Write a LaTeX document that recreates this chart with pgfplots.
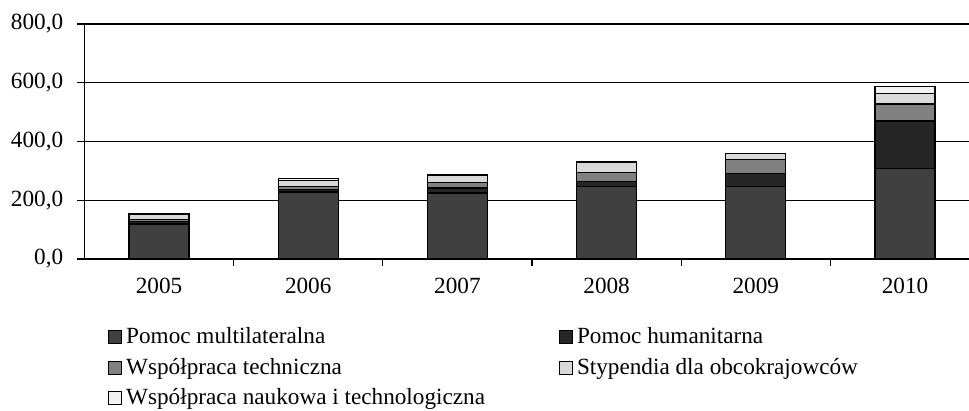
\documentclass[border=0pt]{standalone}
\usepackage{pgfplots}
\pgfplotsset{compat=1.18}
\usepackage{fontspec}
\setmainfont{Liberation Serif}
\definecolor{cmulti}{HTML}{404040}
\definecolor{chum}{HTML}{262626}
\definecolor{ctech}{HTML}{808080}
\definecolor{cstyp}{HTML}{D9D9D9}
\definecolor{cnauk}{HTML}{F2F2F2}
\pgfplotstableread{
x multi hum tech styp nauk
0 119 10 6 16 4
1 228 8 11 20 6
2 225 17 18 24 5
3 246 19 30 35 3
4 246 46 46 21 1
5 309 161 58 35 25
}\datatable
\begin{document}
\fontsize{23.2}{28}\selectfont
\begin{tikzpicture}
\pgfplotsset{leg/.style={legend image code/.code={\draw[##1,line width=1pt] (0pt,-5.5pt) rectangle (13pt,7.5pt);}}}
\begin{axis}[
 at={(84.4pt,-259pt)}, anchor=south west,
 scale only axis, width=884.6pt, height=235pt,
 xmin=-0.5, xmax=5.429, ymin=0, ymax=800,
 ybar stacked, bar width=60pt,
 axis lines*=left,
 axis line style={line width=1.2pt, black},
 tick align=outside,
 major tick length=7pt,
 tick style={line width=1.2pt, black},
 ytick={0,200,...,800},
 ymajorgrids, grid style={line width=1.2pt, black},
 /pgf/number format/assume math mode=true,
 yticklabel style={/pgf/number format/fixed, /pgf/number format/fixed zerofill, /pgf/number format/precision=1, /pgf/number format/use comma, /pgf/number format/1000 sep={}, inner sep=0pt, anchor=east, xshift=-14pt},
 xtick={0,...,5},
 xticklabels={2005,2006,2007,2008,2009,2010},
 major x tick style={draw=none},
 minor xtick={0.5,1.5,2.5,3.5,4.5},
 minor tick length=7pt,
 minor x tick style={line width=1.2pt, black},
 xticklabel style={inner sep=0pt, text height=15pt, text depth=0pt, anchor=north, yshift=-12pt},
 legend columns=2,
 legend cell align=left,
 legend style={draw=none, fill=none, at={(0.02668,-0.2906)}, anchor=north west, inner sep=0pt, row sep=9.5pt,
   nodes={inner sep=0pt, text height=16pt, text depth=5pt},
   /tikz/every odd column/.append style={column sep=4pt},
   /tikz/every even column/.append style={column sep=74pt}},
 every axis plot/.append style={draw=black, line width=1.2pt},
]
\addplot[fill=cmulti, leg] table[x=x, y=multi] {\datatable};
\addplot[fill=chum, leg] table[x=x, y=hum] {\datatable};
\addplot[fill=ctech, leg] table[x=x, y=tech] {\datatable};
\addplot[fill=cstyp, leg] table[x=x, y=styp] {\datatable};
\addplot[fill=cnauk, leg] table[x=x, y=nauk] {\datatable};
\legend{Pomoc multilateralna, Pomoc humanitarna, Współpraca techniczna, Stypendia dla obcokrajowców, Współpraca naukowa i technologiczna}
\end{axis}
\pgfresetboundingbox
\useasboundingbox (0pt,0pt) rectangle (969pt,-410pt);
\end{tikzpicture}
\end{document}
